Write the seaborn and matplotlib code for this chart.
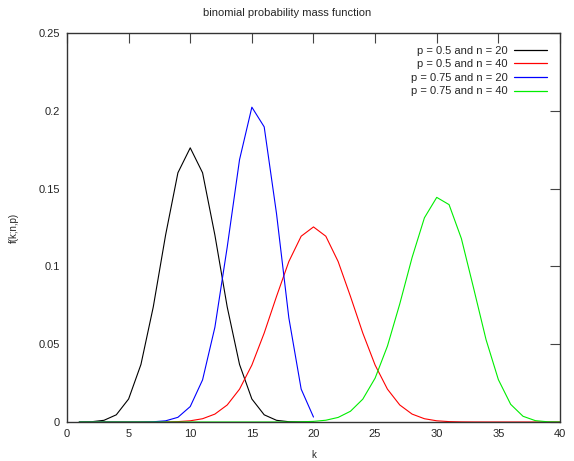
import matplotlib
matplotlib.use("Agg")
import matplotlib.pyplot as plt
from matplotlib.lines import Line2D
import seaborn as sns
import pandas as pd

sns.set_theme(style="white")
plt.rcParams['font.family'] = ['Liberation Sans', 'DejaVu Sans']

k_20 = list(range(1, 21))
k_40 = list(range(1, 41))

pmf_05_20 = [0.0000191, 0.000181, 0.001087, 0.004621, 0.014786, 0.036964, 0.073929,
             0.120134, 0.160179, 0.176197, 0.160179, 0.120134, 0.073929, 0.036964,
             0.014786, 0.004621, 0.001087, 0.000181, 0.0000191, 0.00000095]
pmf_05_40 = [0, 0, 0, 0, 0.0000006, 0.0000035, 0.000017, 0.0000699, 0.000249, 0.000771,
             0.002103, 0.005081, 0.010944, 0.021107, 0.036585, 0.057164, 0.080702,
             0.103119, 0.119401, 0.125371, 0.119401, 0.103119, 0.080702, 0.057164,
             0.036585, 0.021107, 0.010944, 0.005081, 0.002103, 0.000771, 0.000249,
             0.0000699, 0.000017, 0.0000035, 0.0000006, 0, 0, 0, 0, 0]
pmf_075_20 = [0, 0, 0, 0.00000036, 0.0000034, 0.0000257, 0.000154, 0.000752, 0.003007,
              0.009922, 0.027061, 0.060887, 0.112406, 0.168609, 0.202331, 0.189685,
              0.133896, 0.066948, 0.021141, 0.003171]
pmf_075_40 = [0, 0, 0, 0, 0, 0, 0, 0, 0, 0, 0, 0, 0.00000002, 0.00000009, 0.00000048,
              0.0000022, 0.0000095, 0.0000364, 0.000126, 0.000398, 0.001136, 0.002943,
              0.006910, 0.014683, 0.028192, 0.048793, 0.075901, 0.105719, 0.131238,
              0.144362, 0.139705, 0.117876, 0.085728, 0.052950, 0.027231, 0.011346,
              0.003680, 0.000872, 0.000134, 0.00001]

labels = ["p = 0.5 and n = 20", "p = 0.5 and n = 40",
          "p = 0.75 and n = 20", "p = 0.75 and n = 40"]
colors = ["#000000", "#ff0000", "#0000ff", "#00ee00"]

frames = []
for lab, ks, vals in zip(labels, [k_20, k_40, k_20, k_40],
                         [pmf_05_20, pmf_05_40, pmf_075_20, pmf_075_40]):
    frames.append(pd.DataFrame({"k": ks, "f": vals, "series": lab}))
df = pd.concat(frames, ignore_index=True)

fig = plt.figure(figsize=(5.74, 4.61), dpi=100)
ax = fig.add_axes([0.1167, 0.0846, 0.8589, 0.8438])

sns.lineplot(data=df, x="k", y="f", hue="series", hue_order=labels,
             palette=dict(zip(labels, colors)), linewidth=0.8, ax=ax,
             estimator=None, sort=False, legend=False)

ax.set_xlim(0, 40)
ax.set_ylim(0, 0.25)
ax.set_xticks([0, 5, 10, 15, 20, 25, 30, 35, 40])
ax.set_yticks([0, 0.05, 0.1, 0.15, 0.2, 0.25])
ax.set_yticklabels(["0", "0.05", "0.1", "0.15", "0.2", "0.25"])
ax.tick_params(direction="in", length=7, width=0.8, color="#444444",
               top=True, right=True, labelsize=8, pad=5)
for s in ax.spines.values():
    s.set_color("#333333")
    s.set_linewidth(1.0)

ax.set_xlabel("k", fontsize=7, labelpad=8)
ax.set_ylabel("f(k;n,p)", fontsize=7, labelpad=14)
fig.text(0.5, 0.972, "binomial probability mass function", fontsize=8,
         ha="center", va="center")

handles = [Line2D([], [], color=c, linewidth=0.9) for c in colors]
ax.legend(handles, labels, loc="upper right", frameon=False, markerfirst=False,
          fontsize=8, handlelength=3.0, handletextpad=0.55, labelspacing=0.32,
          borderaxespad=0.75)

fig.savefig("out.png", dpi=100)
